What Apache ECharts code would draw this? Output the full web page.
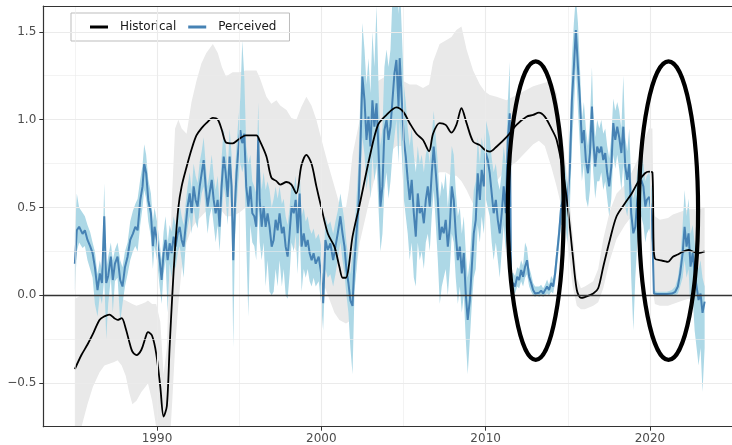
<!DOCTYPE html>
<html><head><meta charset="utf-8">
<script src="https://cdn.jsdelivr.net/npm/echarts@6/dist/echarts.min.js"></script>
<style>html,body{margin:0;padding:0;background:#fff}#c{width:732px;height:445px}</style>
</head><body><div id="c"></div>
<script>
// ---------- Historical (smooth estimate with band) ----------
const histYears = [
 1985.0,1985.4,1985.77,1986.1,1986.5,1986.8,1987.1,1987.4,1987.6,1987.85,
 1988.1,1988.3,1988.5,1988.75,1989.05,1989.3,1989.45,1989.7,1989.95,1990.2,
 1990.4,1990.6,1990.77,1990.93,1991.1,1991.3,1991.5,1991.8,1992.1,1992.4,
 1992.7,1993.0,1993.4,1993.7,1993.95,1994.2,1994.6,1995.0,1995.4,1996.05,
 1996.25,1996.66,1996.96,1997.27,1997.5,1997.88,1998.18,1998.48,1998.79,1999.09,
 1999.4,1999.7,2000.0,2000.4,2000.8,2001.1,2001.3,2001.5,2001.67,2001.9,
 2002.34,2002.95,2003.45,2003.97,2004.57,2004.98,2005.38,2005.79,2006.19,2006.56,
 2006.8,2007.2,2007.57,2007.92,2008.22,2008.53,2008.84,2009.24,2009.65,2009.95,
 2010.26,2010.66,2011.27,2011.88,2012.49,2012.9,2013.24,2013.6,2014.0,2014.32,
 2014.75,2015.05,2015.3,2015.55,2015.8,2016.04,2016.55,2016.85,2017.16,2017.56,
 2017.97,2018.48,2018.89,2019.29,2019.7,2019.95,2020.15,2020.22,2020.3,2020.6,
 2021.1,2021.4,2021.7,2022.0,2022.35,2022.65,2022.96,2023.33];
const histValues = [
 -0.42,-0.34,-0.28,-0.22,-0.14,-0.12,-0.11,-0.13,-0.14,-0.13,
 -0.19,-0.26,-0.32,-0.34,-0.31,-0.24,-0.21,-0.23,-0.33,-0.52,
 -0.69,-0.63,-0.29,0.0,0.27,0.5,0.62,0.73,0.83,0.91,
 0.95,0.98,1.01,1.0,0.94,0.87,0.865,0.89,0.91,0.91,
 0.88,0.79,0.67,0.65,0.63,0.645,0.63,0.58,0.74,0.80,
 0.75,0.62,0.50,0.35,0.277,0.163,0.10,0.10,0.163,0.334,
 0.52,0.79,0.97,1.027,1.07,1.046,0.98,0.92,0.884,0.82,
 0.92,0.98,0.97,0.926,0.97,1.065,0.98,0.875,0.855,0.828,
 0.818,0.846,0.90,0.97,1.017,1.027,1.04,1.017,0.95,0.885,
 0.68,0.456,0.23,0.03,-0.015,-0.01,0.01,0.04,0.163,0.315,
 0.45,0.524,0.58,0.647,0.695,0.704,0.70,0.30,0.21,0.20,
 0.19,0.22,0.232,0.248,0.258,0.248,0.24,0.25];
const histLow = [
 -0.95,-0.75,-0.62,-0.52,-0.44,-0.4,-0.39,-0.38,-0.37,-0.4,
 -0.46,-0.55,-0.62,-0.6,-0.55,-0.52,-0.5,-0.6,-0.75,-0.9,
 -1.0,-1.0,-0.85,-0.6,-0.3,-0.05,0.15,0.3,0.38,0.42,
 0.45,0.48,0.5,0.5,0.48,0.45,0.45,0.47,0.5,0.52,
 0.5,0.45,0.35,0.3,0.3,0.3,0.3,0.25,0.3,0.35,
 0.3,0.22,0.1,0.0,-0.1,-0.14,-0.15,-0.16,-0.15,-0.05,
 0.3,0.55,0.75,0.8,0.85,0.85,0.8,0.75,0.7,0.65,
 0.68,0.7,0.7,0.68,0.68,0.65,0.6,0.52,0.5,0.55,
 0.6,0.65,0.72,0.76,0.82,0.86,0.88,0.85,0.73,0.62,
 0.45,0.25,0.05,-0.06,-0.08,-0.08,-0.06,-0.04,0.04,0.2,
 0.32,0.4,0.45,0.5,0.45,0.42,0.4,0.0,-0.05,-0.06,
 -0.06,-0.05,-0.04,-0.03,-0.02,-0.02,-0.02,-0.02];
const histHigh = [
 -0.02,0.0,0.0,0.0,0.0,0.0,0.0,-0.01,-0.01,-0.02,
 -0.03,-0.04,-0.05,-0.06,-0.05,-0.04,-0.03,-0.05,-0.05,-0.15,
 -0.45,-0.3,0.2,0.6,0.95,1.0,0.95,0.92,1.1,1.22,
 1.32,1.38,1.43,1.38,1.3,1.245,1.27,1.27,1.28,1.28,
 1.24,1.13,1.09,1.11,1.08,1.055,1.01,1.0,1.074,1.13,
 1.08,1.0,0.89,0.75,0.62,0.52,0.5,0.5,0.6,0.8,
 1.0,1.15,1.22,1.25,1.25,1.22,1.2,1.2,1.18,1.2,
 1.33,1.43,1.45,1.47,1.51,1.53,1.4,1.28,1.2,1.16,
 1.14,1.13,1.11,1.14,1.17,1.19,1.2,1.21,1.22,1.15,
 0.85,0.6,0.35,0.1,0.04,0.05,0.08,0.15,0.32,0.48,
 0.58,0.63,0.7,0.78,0.9,0.95,0.95,0.5,0.45,0.43,
 0.44,0.46,0.47,0.48,0.49,0.49,0.49,0.5];

// ---------- Perceived (monthly-ish estimate with band) ----------
const percYears = [
 1985.0,1985.12,1985.26,1985.47,1985.61,1985.77,1985.93,1986.08,1986.22,1986.38,1986.52,1986.65,1986.79,1986.91,1987.03,1987.19,1987.31,1987.44,1987.6,1987.76,1987.9,1988.05,1988.21,1988.37,1988.53,1988.68,1988.82,1988.98,1989.12,1989.22,1989.34,1989.47,1989.63,1989.75,
 1989.85,1990.0,1990.16,1990.28,1990.4,1990.52,1990.65,1990.77,1990.89,1991.01,1991.13,1991.26,1991.38,1991.5,1991.62,1991.74,1991.86,1991.99,1992.11,1992.23,1992.35,1992.47,1992.6,1992.72,1992.84,1992.96,1993.08,1993.2,1993.33,1993.45,1993.57,1993.69,1993.81,1993.93,1994.06,1994.18,1994.3,1994.42,1994.54,
 1994.64,1994.74,1994.84,1994.95,1995.07,1995.19,1995.31,1995.43,1995.56,1995.68,1995.8,1995.92,1996.04,1996.16,1996.25,1996.37,1996.49,1996.61,1996.73,1996.85,1996.98,1997.1,1997.22,1997.34,1997.46,1997.6,1997.71,1997.83,1997.95,1998.07,1998.19,1998.32,1998.44,1998.56,1998.68,1998.8,1998.93,1999.05,1999.17,1999.29,1999.41,1999.53,1999.66,
 1999.84,1999.99,2000.11,2000.25,2000.39,2000.55,2000.72,2000.86,2001.0,2001.16,2001.29,2001.41,2001.53,2001.65,2001.77,2001.9,2002.02,2002.14,2002.26,2002.38,2002.5,2002.63,2002.75,2002.87,2002.99,2003.11,2003.23,2003.36,2003.48,2003.6,2003.72,2003.84,2003.97,2004.09,2004.21,2004.33,2004.45,2004.57,2004.7,
 2004.77,2004.9,2005.02,2005.14,2005.26,2005.38,2005.5,2005.63,2005.75,2005.87,2005.99,2006.11,2006.24,2006.36,2006.48,2006.6,2006.72,2006.84,2006.97,2007.09,2007.21,2007.33,2007.45,2007.57,2007.7,2007.82,2007.94,2008.06,2008.18,2008.31,2008.43,2008.55,2008.67,2008.79,2008.91,2009.04,2009.16,2009.28,2009.4,2009.52,2009.65,
 2009.76,2009.89,2010.01,2010.13,2010.25,2010.37,2010.49,2010.62,2010.74,2010.86,2010.98,2011.1,2011.23,2011.35,2011.47,2011.55,2011.67,2011.79,2011.92,2012.04,2012.16,2012.28,2012.4,2012.52,2012.65,2012.77,2012.89,2013.01,2013.13,2013.26,2013.38,2013.5,2013.62,2013.74,2013.86,2013.99,2014.11,2014.23,2014.35,2014.47,2014.6,2014.72,
 2014.82,2014.97,2015.13,2015.25,2015.37,2015.49,2015.62,2015.74,2015.86,2015.98,2016.1,2016.23,2016.35,2016.47,2016.55,2016.67,2016.79,2016.92,2017.04,2017.16,2017.28,2017.4,2017.52,2017.65,2017.77,2017.89,2018.01,2018.13,2018.26,2018.38,2018.5,2018.62,2018.74,2018.86,2018.99,2019.11,2019.23,2019.35,2019.47,2019.6,
 2019.72,2019.81,2019.96,2020.12,2020.24,2020.42,2020.73,2021.03,2021.34,2021.54,2021.7,2021.84,2021.99,2022.11,2022.23,2022.35,2022.47,2022.6,2022.72,2022.84,2022.96,2023.08,2023.2,2023.33];
const percValues = [
 0.18,0.37,0.39,0.35,0.37,0.315,0.28,0.24,0.16,0.03,0.125,0.07,0.45,0.07,0.11,0.22,0.087,0.18,0.22,0.087,0.05,0.16,0.22,0.315,0.35,0.39,0.37,0.54,0.62,0.75,0.695,0.54,0.467,0.28,
 0.39,0.315,0.2,0.087,0.24,0.315,0.2,0.296,0.24,0.334,0.277,0.353,0.39,0.315,0.277,0.39,0.505,0.58,0.467,0.62,0.543,0.505,0.62,0.695,0.77,0.62,0.505,0.58,0.657,0.543,0.467,0.543,0.39,0.62,0.79,0.695,0.56,0.79,0.62,
 0.2,0.505,0.695,0.83,0.94,0.866,0.92,0.62,0.505,0.62,0.467,0.45,0.39,0.9,0.543,0.39,0.505,0.39,0.467,0.39,0.277,0.315,0.43,0.37,0.467,0.353,0.39,0.277,0.22,0.353,0.505,0.467,0.543,0.353,0.58,0.277,0.353,0.277,0.315,0.24,0.2,0.24,0.18,
 0.22,0.125,-0.045,0.315,0.258,0.296,0.2,0.277,0.353,0.45,0.353,0.277,0.144,0.07,-0.03,-0.06,0.2,0.353,0.505,0.847,1.245,1.11,0.885,1.017,0.847,1.11,0.96,1.093,0.828,0.505,0.62,0.94,1.0,0.885,0.96,1.11,1.264,1.34,1.074,
 1.35,1.11,0.885,0.79,0.657,0.543,0.657,0.467,0.334,0.58,0.467,0.505,0.41,0.543,0.62,0.505,0.695,0.847,0.695,0.543,0.315,0.39,0.353,0.43,0.277,0.39,0.62,0.543,0.353,0.2,0.277,0.125,0.24,0.01,-0.14,-0.027,0.163,0.353,0.43,0.695,0.543,
 0.714,0.62,0.81,0.77,0.695,0.58,0.467,0.543,0.43,0.353,0.467,0.62,0.467,0.885,1.036,0.05,0.07,0.05,0.106,0.087,0.144,0.106,0.163,0.2,0.106,0.07,0.03,0.01,0.02,0.015,0.027,0.01,0.03,0.05,0.03,0.07,0.05,0.125,0.24,0.353,0.505,0.543,
 0.62,0.505,0.733,1.11,1.3,1.51,1.3,1.11,0.866,0.94,0.77,0.695,0.81,1.074,0.885,0.733,0.847,0.81,0.847,0.77,0.81,0.695,0.62,0.733,0.98,0.885,0.96,0.9,0.81,0.96,0.733,0.657,0.75,0.467,0.353,0.39,0.543,0.62,0.657,0.62,
 0.505,0.543,0.56,0.45,0.01,0.008,0.008,0.008,0.01,0.02,0.05,0.125,0.24,0.39,0.277,0.353,0.163,0.24,0.125,0.05,-0.027,0.01,-0.1,-0.036];
const percLow = [
 0.02,0.25,0.3,0.27,0.28,0.2,0.15,0.1,-0.05,-0.12,0.0,-0.05,0.1,-0.25,-0.05,0.1,-0.1,0.08,0.1,-0.15,-0.05,0.05,0.12,0.2,0.25,0.28,0.25,0.4,0.5,0.6,0.55,0.42,0.33,0.15,
 0.28,0.2,0.05,-0.05,0.12,0.2,-0.1,0.18,0.1,0.22,0.15,0.24,0.28,0.2,0.1,0.28,0.38,0.45,0.35,0.5,0.42,0.38,0.5,0.58,0.62,0.48,0.35,0.45,0.5,0.4,0.3,0.4,0.25,0.45,0.62,0.55,0.4,0.62,0.45,
 -0.3,0.3,0.5,0.65,0.75,0.7,0.75,0.3,-0.12,0.4,0.3,0.28,0.2,0.5,0.3,0.2,0.3,0.05,0.2,0.02,0.0,0.02,0.15,0.05,0.2,0.05,0.15,0.0,-0.02,0.12,0.3,0.25,0.35,0.12,0.4,0.02,0.15,0.1,0.15,0.08,0.05,0.1,0.05,
 0.08,-0.05,-0.2,0.15,0.1,0.12,0.05,0.12,0.2,0.3,0.2,0.12,0.0,-0.1,-0.3,-0.45,0.02,0.15,0.3,0.6,0.9,0.8,0.6,0.7,0.55,0.8,0.65,0.75,0.5,0.25,0.35,0.6,0.7,0.55,0.65,0.8,0.9,1.0,0.75,
 1.0,0.8,0.55,0.45,0.35,0.2,0.3,0.1,0.05,0.3,0.2,0.25,0.15,0.3,0.35,0.25,0.45,0.6,0.4,0.2,-0.05,0.05,0.1,0.15,0.0,0.15,0.35,0.3,0.1,-0.05,0.05,-0.1,0.0,-0.25,-0.45,-0.25,-0.05,0.1,0.15,0.4,0.3,
 0.45,0.35,0.55,0.5,0.45,0.3,0.2,0.3,0.2,0.1,0.25,0.4,0.25,0.6,0.8,0.0,0.02,0.01,0.05,0.04,0.08,0.05,0.1,0.12,0.05,0.02,0.0,-0.01,0.0,-0.01,0.0,-0.01,0.0,0.01,0.0,0.02,0.01,0.07,0.17,0.28,0.4,0.4,
 0.45,0.3,0.5,0.85,1.05,1.3,1.05,0.85,0.65,0.75,0.55,0.5,0.6,0.85,0.7,0.55,0.65,0.65,0.7,0.6,0.65,0.55,0.45,0.55,0.8,0.72,0.8,0.72,0.6,0.75,0.5,0.45,0.55,0.1,-0.2,0.1,0.3,0.4,0.45,0.4,
 0.3,0.35,0.38,0.3,0.0,0.0,0.0,0.0,0.0,0.0,0.01,0.05,0.1,0.2,0.1,0.15,-0.1,0.0,-0.2,-0.3,-0.4,-0.3,-0.55,-0.3];
const percHigh = [
 0.35,0.58,0.5,0.47,0.45,0.4,0.36,0.3,0.25,0.12,0.2,0.14,0.64,0.15,0.22,0.3,0.2,0.26,0.3,0.2,0.16,0.25,0.3,0.42,0.48,0.52,0.55,0.66,0.74,0.86,0.8,0.66,0.58,0.42,
 0.5,0.42,0.3,0.2,0.36,0.45,0.3,0.4,0.36,0.45,0.4,0.48,0.52,0.45,0.4,0.52,0.62,0.7,0.6,0.75,0.68,0.64,0.76,0.82,0.9,0.75,0.62,0.7,0.8,0.68,0.6,0.68,0.52,0.78,0.95,0.85,0.7,0.95,0.8,
 0.4,0.7,0.85,1.0,1.12,1.45,1.25,0.85,0.75,0.8,0.65,0.62,0.58,1.1,0.75,0.6,0.7,0.6,0.65,0.6,0.5,0.55,0.62,0.55,0.62,0.52,0.55,0.45,0.4,0.5,0.65,0.6,0.68,0.5,0.72,0.45,0.5,0.42,0.45,0.38,0.35,0.38,0.32,
 0.35,0.28,0.08,0.45,0.4,0.42,0.35,0.42,0.48,0.58,0.5,0.42,0.3,0.22,0.12,0.25,0.38,0.55,0.75,1.15,1.55,1.4,1.2,1.35,1.15,1.5,1.3,1.65,1.2,0.85,0.95,1.3,1.4,1.3,1.4,1.7,1.75,1.8,1.6,
 1.8,1.5,1.2,1.1,0.95,0.85,0.95,0.8,0.7,0.85,0.75,0.8,0.7,0.8,0.85,0.75,0.9,1.05,0.9,0.75,0.55,0.65,0.6,0.7,0.5,0.65,0.85,0.8,0.6,0.45,0.5,0.35,0.45,0.25,0.1,0.2,0.4,0.6,0.65,0.9,0.75,
 0.9,0.82,1.0,0.95,0.9,0.78,0.7,0.75,0.65,0.6,0.7,0.85,0.75,1.1,1.33,0.12,0.13,0.11,0.16,0.15,0.2,0.17,0.3,0.27,0.16,0.12,0.07,0.05,0.05,0.05,0.06,0.04,0.06,0.09,0.06,0.11,0.09,0.18,0.3,0.42,0.6,0.65,
 0.75,0.62,0.95,1.35,1.55,1.7,1.55,1.3,1.0,1.1,0.95,0.85,1.0,1.3,1.05,0.9,1.0,0.95,1.0,0.92,0.95,0.85,0.78,0.9,1.12,1.05,1.1,1.05,0.95,1.25,0.9,0.82,0.95,0.65,0.55,0.6,0.7,0.78,0.8,0.75,
 0.65,0.68,0.7,0.6,0.03,0.02,0.02,0.02,0.03,0.05,0.1,0.2,0.4,0.6,0.45,0.55,0.35,0.4,0.3,0.2,0.15,0.2,0.1,0.05];

// ---------- Axes / annotations ----------
const xTicks = [1990, 2000, 2010, 2020];
const xMinor = [1985, 1995, 2005, 2015];
const yTicks = [-0.5, 0, 0.5, 1.0, 1.5];
const yMinor = [-0.25, 0.25, 0.75, 1.25];
// ellipses: [centre year, centre value, half-width (years), half-height (value)]
const ellipses = [[2013.05, 0.482, 1.70, 0.85], [2021.13, 0.482, 1.80, 0.85]];

const FONT = 'DejaVu Sans';
const zip = (xs, ys) => xs.map((x, i) => [x, ys[i]]);

function bandSeries(name, years, lo, hi, color) {
  return {
    name: name, type: 'custom', z: 1, silent: true,
    data: years.map((y, i) => [y, lo[i], hi[i]]),
    encode: { x: 0, y: [1, 2] },
    renderItem: function (params, api) {
      if (params.dataIndex !== 0) return null;
      const pts = [];
      for (let i = 0; i < years.length; i++) pts.push(api.coord([years[i], hi[i]]));
      for (let i = years.length - 1; i >= 0; i--) pts.push(api.coord([years[i], lo[i]]));
      const cs = params.coordSys;
      return {
        type: 'polygon', shape: { points: pts },
        style: { fill: color, stroke: null },
        clipPath: { type: 'rect', shape: { x: cs.x, y: cs.y, width: cs.width, height: cs.height } }
      };
    }
  };
}

const gridLines = [];
xTicks.forEach(v => gridLines.push({ xAxis: v, lineStyle: { width: 1.1 } }));
xMinor.forEach(v => gridLines.push({ xAxis: v, lineStyle: { width: 0.6 } }));
yTicks.forEach(v => gridLines.push({ yAxis: v, lineStyle: { width: 1.1 } }));
yMinor.forEach(v => gridLines.push({ yAxis: v, lineStyle: { width: 0.6 } }));

const chart = echarts.init(document.getElementById('c'), null, { renderer: 'canvas' });
chart.setOption({
  animation: false,
  backgroundColor: '#ffffff',
  grid: { left: 43.3, top: 6, width: 692.9, height: 420.7, containLabel: false, outerBoundsMode: 'none' },
  xAxis: [{
    type: 'value', min: 1983.08, max: 2025.25, z: 10,
    splitLine: { show: false },
    axisLine: { show: true, onZero: false, lineStyle: { color: '#333333', width: 1.2 } },
    axisTick: { show: true, customValues: xTicks, length: 4, lineStyle: { color: '#333333', width: 1 } },
    axisLabel: { customValues: xTicks, color: '#4D4D4D', fontSize: 12, fontFamily: FONT, margin: 6, formatter: v => String(v) }
  }, {
    type: 'value', position: 'top', min: 1983.08, max: 2025.25, z: 10,
    splitLine: { show: false }, axisTick: { show: false }, axisLabel: { show: false },
    axisLine: { show: true, onZero: false, lineStyle: { color: '#333333', width: 1.2 } }
  }],
  yAxis: {
    type: 'value', min: -0.748, max: 1.647, z: 10,
    splitLine: { show: false },
    axisLine: { show: true, onZero: false, lineStyle: { color: '#333333', width: 1.2 } },
    axisTick: { show: true, customValues: yTicks, length: 4, lineStyle: { color: '#333333', width: 1 } },
    axisLabel: { customValues: yTicks, color: '#4D4D4D', fontSize: 12, fontFamily: FONT, margin: 7,
      formatter: v => (v < 0 ? '\u2212' : '') + Math.abs(v).toFixed(1) }
  },
  legend: {
    show: true, left: 71, top: 13, orient: 'horizontal',
    backgroundColor: '#ffffff', borderColor: '#BDBDBD', borderWidth: 1, borderRadius: 0,
    padding: [8, 13, 8, 19], itemGap: 12, itemWidth: 18, itemHeight: 3,
    textStyle: { color: '#1a1a1a', fontSize: 12, fontFamily: FONT, padding: [0, 0, 0, 7] },
    data: [
      { name: 'Historical', icon: 'rect', itemStyle: { color: '#000000' } },
      { name: 'Perceived', icon: 'rect', itemStyle: { color: '#4682B4' } }
    ]
  },
  series: [
    {
      name: 'gridlines', type: 'line', data: [], z: 0, silent: true,
      markLine: { silent: true, symbol: ['none', 'none'], label: { show: false }, animation: false,
        lineStyle: { color: '#EBEBEB', type: 'solid' }, data: gridLines }
    },
    bandSeries('histBand', histYears, histLow, histHigh, '#E9E9E9'),
    bandSeries('percBand', percYears, percLow, percHigh, '#ADD8E6'),
    {
      name: 'Perceived', type: 'line', data: zip(percYears, percValues), z: 3,
      showSymbol: false, symbol: 'none', lineStyle: { color: '#4682B4', width: 2 }, itemStyle: { color: '#4682B4' }
    },
    {
      name: 'Historical', type: 'line', data: zip(histYears, histValues), z: 4,
      showSymbol: false, symbol: 'none', smooth: 0.3, lineStyle: { color: '#000000', width: 1.8 }, itemStyle: { color: '#000000' },
      markLine: { silent: true, symbol: ['none', 'none'], label: { show: false }, animation: false,
        lineStyle: { color: '#333333', type: 'solid', width: 1.3 }, data: [{ yAxis: 0 }] }
    },
    {
      name: 'ellipses', type: 'custom', z: 5, silent: true,
      data: ellipses, encode: { x: 0, y: 1 },
      renderItem: function (params, api) {
        const c = api.coord([api.value(0), api.value(1)]);
        const s = api.size([api.value(2), api.value(3)]);
        return { type: 'ellipse', shape: { cx: c[0], cy: c[1], rx: s[0], ry: s[1] },
          style: { fill: null, stroke: '#000000', lineWidth: 4.2 } };
      }
    }
  ]
});
</script>
</body></html>
